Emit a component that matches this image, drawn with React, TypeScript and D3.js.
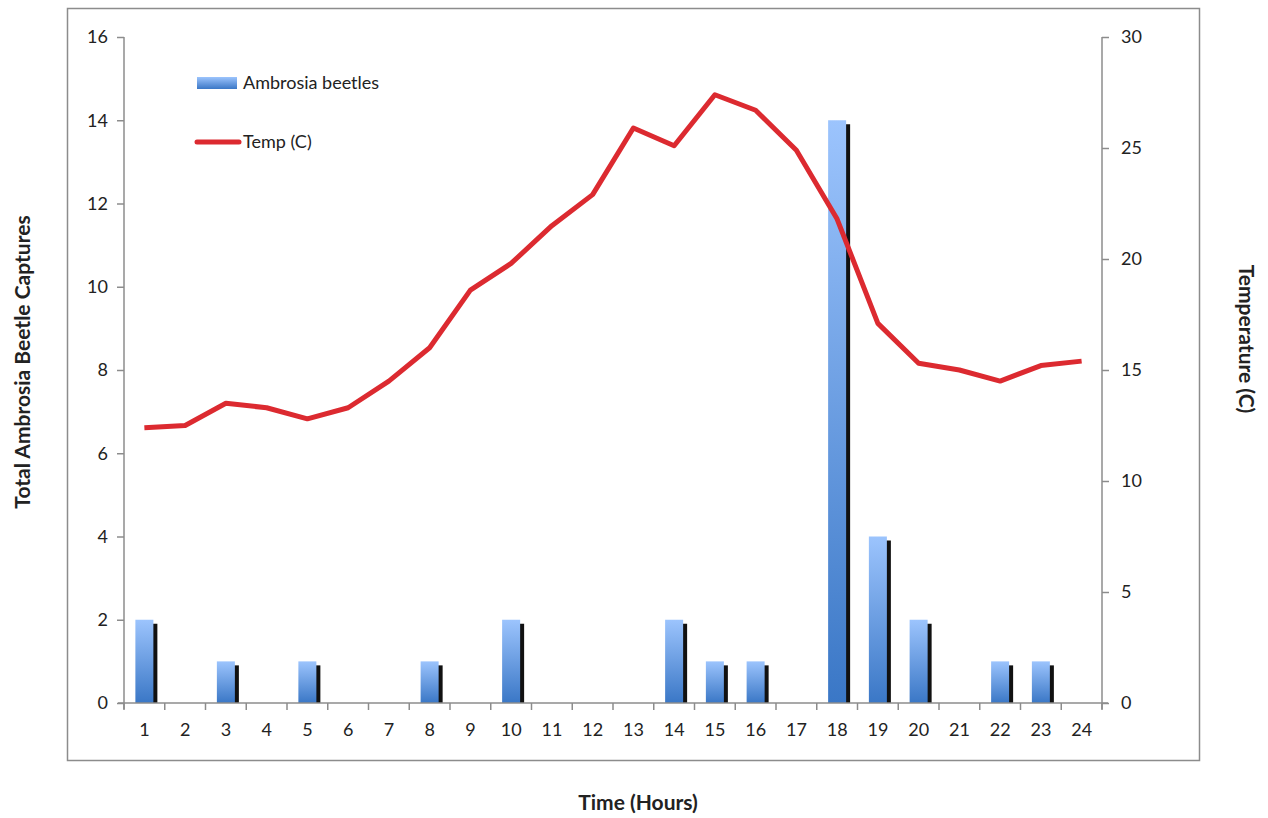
import React, { useEffect, useRef } from 'react'
import * as d3 from 'd3'

// hours on the x axis
const hours = ['1','2','3','4','5','6','7','8','9','10','11','12','13','14','15','16','17','18','19','20','21','22','23','24']
// beetle captures per hour (left axis)
const captures = [2,0,1,0,1,0,0,1,0,2,0,0,0,2,1,1,0,14,4,2,0,1,1,0]
// temperature per hour (right axis)
const temps = [12.4,12.5,13.5,13.3,12.8,13.3,14.5,16.0,18.6,19.8,21.5,22.9,25.9,25.1,27.4,26.7,24.9,21.8,17.1,15.3,15.0,14.5,15.2,15.4]
const leftTicks = [0,2,4,6,8,10,12,14,16]
const rightTicks = [0,5,10,15,20,25,30]

const W = 1268
const H = 818
const FONT = 'Lato, "Open Sans", sans-serif'

export default function App() {
  const ref = useRef<SVGSVGElement>(null)

  useEffect(() => {
    const svg = d3.select(ref.current)
    svg.selectAll('*').remove()

    const left = 124, right = 1102, top = 37, bottom = 703

    const defs = svg.append('defs')
    const grad = defs.append('linearGradient')
      .attr('id', 'barGrad').attr('x1', 0).attr('y1', 0).attr('x2', 0).attr('y2', 1)
    grad.append('stop').attr('offset', '0%').attr('stop-color', '#9cc4fd')
    grad.append('stop').attr('offset', '100%').attr('stop-color', '#3a77c6')

    // outer chart frame
    svg.append('rect')
      .attr('x', 67.5).attr('y', 8.5).attr('width', 1132).attr('height', 752)
      .attr('fill', 'white').attr('stroke', '#8c8c8c').attr('stroke-width', 1.5)

    const x = d3.scaleBand().domain(hours).range([left, right])
    const yL = d3.scaleLinear().domain([0, 16]).range([bottom, top])
    const yR = d3.scaleLinear().domain([0, 30]).range([bottom, top])

    const barW = 18
    const bars = svg.append('g')
    const data = hours.map((h, i) => ({ h, v: captures[i] })).filter(d => d.v > 0)
    // shadow
    bars.selectAll('rect.shadow').data(data).enter().append('rect')
      .attr('class', 'shadow')
      .attr('x', d => (x(d.h) as number) + x.bandwidth() / 2 - barW / 2 + 4)
      .attr('y', d => yL(d.v) + 4)
      .attr('width', barW)
      .attr('height', d => bottom - yL(d.v) - 4)
      .attr('fill', '#111')
    bars.selectAll('rect.bar').data(data).enter().append('rect')
      .attr('class', 'bar')
      .attr('x', d => (x(d.h) as number) + x.bandwidth() / 2 - barW / 2)
      .attr('y', d => yL(d.v))
      .attr('width', barW)
      .attr('height', d => bottom - yL(d.v))
      .attr('fill', 'url(#barGrad)')

    // axes
    const axisColor = '#8c8c8c'
    const textColor = '#222'
    const tickFont = '18px'

    const gx = svg.append('g').attr('transform', `translate(0,${bottom})`)
      .call(d3.axisBottom(x).tickSize(0).tickPadding(20))
    gx.select('.domain').remove()
    gx.append('line').attr('x1', left - 6).attr('x2', right + 6).attr('y1', 0).attr('y2', 0)
      .attr('stroke', axisColor).attr('stroke-width', 1.5)
    gx.selectAll('line.bt').data(d3.range(hours.length + 1)).enter().append('line')
      .attr('class', 'bt')
      .attr('x1', i => left + i * x.step()).attr('x2', i => left + i * x.step())
      .attr('y1', 0).attr('y2', 7)
      .attr('stroke', axisColor).attr('stroke-width', 1.5)

    const gl = svg.append('g').attr('transform', `translate(${left},0)`)
      .call(d3.axisLeft(yL).tickValues(leftTicks).tickSize(7).tickPadding(9).tickSizeOuter(0))
    const gr = svg.append('g').attr('transform', `translate(${right},0)`)
      .call(d3.axisRight(yR).tickValues(rightTicks).tickSize(7).tickPadding(12).tickSizeOuter(0))

    for (const g of [gx, gl, gr]) {
      g.selectAll('.domain').attr('stroke', axisColor).attr('stroke-width', 1.5)
      g.selectAll('.tick line').attr('stroke', axisColor).attr('stroke-width', 1.5)
      g.selectAll('.tick text').attr('fill', textColor).style('font-family', FONT).style('font-size', tickFont)
    }
    gl.select('.domain').attr('d', `M0,${top}V${bottom + 6}`)
    gr.select('.domain').attr('d', `M0,${top}V${bottom + 6}`)

    // temperature line
    const line = d3.line<number>()
      .x((_, i) => (x(hours[i]) as number) + x.bandwidth() / 2)
      .y(d => yR(d))
    svg.append('path').datum(temps)
      .attr('d', line)
      .attr('fill', 'none')
      .attr('stroke', '#dc2a30')
      .attr('stroke-width', 5)
      .attr('stroke-linejoin', 'round')

    // legend
    const lg = svg.append('g')
    lg.append('rect').attr('x', 197).attr('y', 77).attr('width', 40).attr('height', 12).attr('fill', 'url(#barGrad)')
    lg.append('text').attr('x', 243).attr('y', 89).text('Ambrosia beetles')
    lg.append('line').attr('x1', 197).attr('x2', 239).attr('y1', 142).attr('y2', 142)
      .attr('stroke', '#dc2a30').attr('stroke-width', 5).attr('stroke-linecap', 'round')
    lg.append('text').attr('x', 243).attr('y', 148).text('Temp (C)')
    lg.selectAll('text').attr('fill', textColor).style('font-family', FONT).style('font-size', tickFont)

    // axis titles
    const title = (t: string, tx: number, ty: number, rot: number) =>
      svg.append('text')
        .attr('transform', `translate(${tx},${ty}) rotate(${rot})`)
        .attr('text-anchor', 'middle')
        .style('font-family', FONT).style('font-size', '21px').style('font-weight', 'bold')
        .attr('fill', textColor)
        .text(t)
    title('Total Ambrosia Beetle Captures', 30, 362, -90)
    title('Temperature (C)', 1239, 339, 90)
    title('Time (Hours)', 638, 810, 0)
  }, [])

  return <svg ref={ref} width={W} height={H} style={{ position: 'absolute', left: 0, top: 0, display: 'block' }} />
}
